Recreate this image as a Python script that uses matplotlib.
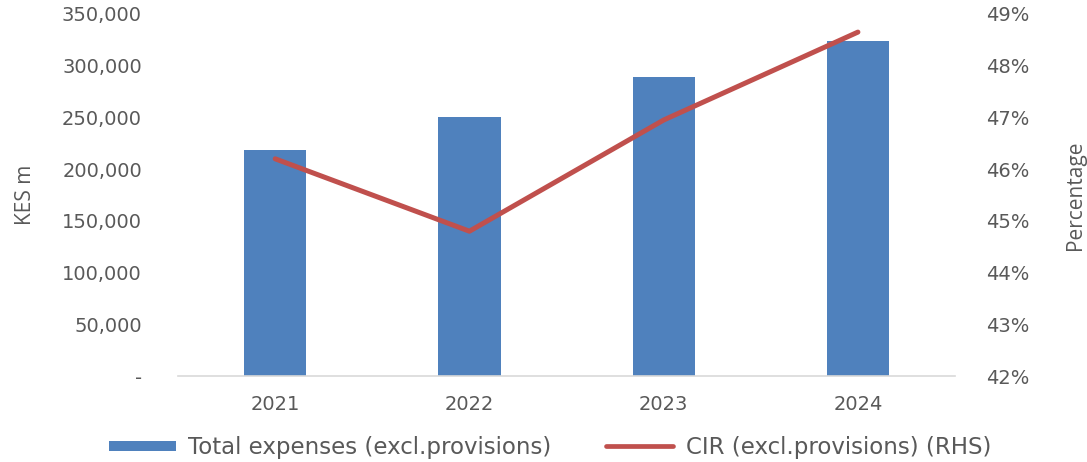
import matplotlib
matplotlib.use("Agg")
import matplotlib.pyplot as plt
from matplotlib.ticker import FuncFormatter
from matplotlib.lines import Line2D

years = ["2021", "2022", "2023", "2024"]
expenses = [218500, 250400, 289000, 323800]
cir = [46.2, 44.8, 46.95, 48.65]

bar_color = "#4F81BD"
line_color = "#C0504D"
text_color = "#595959"

fig = plt.figure(figsize=(10.87, 4.62), dpi=100)
ax = fig.add_axes([0.1638, 0.1861, 0.7148, 0.7836])
x = range(len(years))
ax.bar(x, expenses, width=0.32, color=bar_color, zorder=2)
ax.set_xlim(-0.5, 3.5)
ax.set_ylim(0, 350000)
ax.set_yticks(range(0, 350001, 50000))
ax.yaxis.set_major_formatter(FuncFormatter(lambda v, p: "-" if v == 0 else f"{int(v):,}"))
ax.set_xticks(list(x))
ax.set_xticklabels(years)
for s in ["top", "right", "left"]:
    ax.spines[s].set_visible(False)
ax.spines["bottom"].set_color("#D9D9D9")
ax.spines["bottom"].set_linewidth(1.2)
ax.tick_params(axis="both", length=0, colors=text_color, labelsize=14)
ax.tick_params(axis="x", pad=14)
ax.tick_params(axis="y", pad=26)
ax.set_ylabel("KES m", color=text_color, fontsize=15, family="Open Sans", labelpad=19)

ax2 = ax.twinx()
ax2.plot(list(x), cir, color=line_color, linewidth=3.6, solid_capstyle="round", zorder=3)
ax2.set_ylim(42, 49)
ax2.set_yticks(range(42, 50))
ax2.yaxis.set_major_formatter(FuncFormatter(lambda v, p: f"{int(v)}%"))
for s in ["top", "right", "left", "bottom"]:
    ax2.spines[s].set_visible(False)
ax2.tick_params(axis="y", length=0, colors=text_color, labelsize=14, pad=22)
ax2.set_ylabel("Percentage", color=text_color, fontsize=15, family="Open Sans", labelpad=26)

handles = [Line2D([0], [0], color=bar_color, lw=7.2, solid_capstyle="butt",
                  label="Total expenses (excl.provisions)"),
           Line2D([0], [0], color=line_color, lw=3.4, solid_capstyle="round",
                  label="CIR (excl.provisions) (RHS)")]
leg = fig.legend(handles=handles, loc="center", bbox_to_anchor=(0.506, 0.032), ncol=2,
                 frameon=False, fontsize=16.5, handlelength=2.9, handletextpad=0.55,
                 columnspacing=2.4, labelcolor=text_color)
fig.savefig("out.png", dpi=100)
